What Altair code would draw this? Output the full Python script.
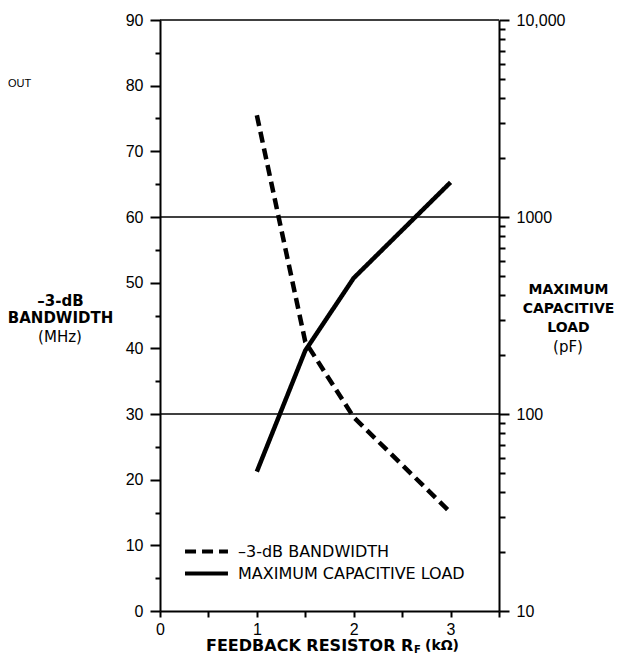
import altair as alt
import pandas as pd

# ---- data ----
rf_kohm = [1.0, 1.5, 2.0, 3.0]
bandwidth_mhz = [75.5, 41.0, 29.5, 15.0]
max_cap_pf = [51, 210, 490, 1500]
series_names = ["–3-dB BANDWIDTH", "MAXIMUM CAPACITIVE LOAD"]
grid_mhz = [30, 60, 90]
x_tick_values = [0, 0.5, 1, 1.5, 2, 2.5, 3, 3.5]
left_tick_values = list(range(0, 95, 5))
right_tick_values = [m * d for d in (10, 100, 1000) for m in range(1, 10)] + [10000]

W, H = 339, 591

bw_df = pd.DataFrame({"rf": rf_kohm, "value": bandwidth_mhz, "series": series_names[0]})
cap_df = pd.DataFrame({"rf": rf_kohm, "value": max_cap_pf, "series": series_names[1]})
grid_df = pd.DataFrame({"mhz": grid_mhz})

x_scale = alt.Scale(domain=[0, 3.5], nice=False, zero=False)
left_scale = alt.Scale(domain=[0, 90], nice=False, zero=False)
right_scale = alt.Scale(type="log", domain=[10, 10000], nice=False)
dash_scale = alt.Scale(domain=series_names, range=[[11, 6], [1, 0]])

x_axis = alt.Axis(
    values=x_tick_values,
    labelExpr="datum.value % 1 === 0 && datum.value < 3.5 ? format(datum.value, 'd') : ''",
    tickSize=6, labelPadding=4, title=None, grid=False,
)

left_major = "datum.value % 10 === 0"
left_axis = alt.Axis(
    orient="left", values=left_tick_values,
    labelExpr=f"{left_major} ? datum.label : ''",
    tickSize={"condition": {"test": left_major, "value": 10}, "value": 5},
    labelPadding=7, grid=False,
    title=["–3-dB", "BANDWIDTH"], titleAngle=0, titleAlign="center",
    titleBaseline="middle", titleX=-100, titleY=280, titleLineHeight=17,
)

right_major = "datum.value === 10 || datum.value === 100 || datum.value === 1000 || datum.value === 10000"
right_axis = alt.Axis(
    orient="right", values=right_tick_values,
    labelExpr=f"datum.value === 10000 ? '10,000' : (({right_major}) ? format(datum.value, 'd') : '')",
    tickSize={"condition": {"test": right_major, "value": 10}, "value": 6},
    labelPadding=7, grid=False,
    title=["MAXIMUM", "CAPACITIVE", "LOAD"], titleAngle=0, titleAlign="center",
    titleBaseline="middle", titleX=69, titleY=269, titleLineHeight=19, titleFontSize=14,
)

# wide stroke sample drawn with a small symbol size so the rows stay close together
legend = alt.Legend(
    title=None, orient="none", legendX=35, legendY=520, direction="vertical",
    symbolType="M-2.26,0H2.26", symbolSize=361, symbolStrokeWidth=4,
    symbolStrokeColor="black", symbolFillColor="transparent",
    labelFont="DejaVu Sans", labelFontSize=16, labelColor="black", labelOffset=20,
    padding=0, labelLimit=400,
)

grid = alt.Chart(grid_df).mark_rule(strokeWidth=1.5, color="black").encode(
    y=alt.Y("mhz:Q", scale=left_scale, axis=None)
)

bw_line = alt.Chart(bw_df).mark_line(strokeWidth=4.5, color="black", strokeCap="butt").encode(
    x=alt.X("rf:Q", scale=x_scale, axis=x_axis),
    y=alt.Y("value:Q", scale=left_scale, axis=left_axis),
    strokeDash=alt.StrokeDash("series:N", scale=dash_scale, legend=legend),
)

cap_line = alt.Chart(cap_df).mark_line(strokeWidth=4.5, color="black", strokeCap="butt").encode(
    x=alt.X("rf:Q", scale=x_scale, axis=x_axis),
    y=alt.Y("value:Q", scale=right_scale, axis=right_axis),
    strokeDash=alt.StrokeDash("series:N", scale=dash_scale, legend=legend),
)


def label(text, x, y, size, weight="normal", align="left", font="DejaVu Sans"):
    return alt.Chart(pd.DataFrame({"t": [text]})).mark_text(
        align=align, baseline="middle", fontSize=size, fontWeight=weight,
        font=font, color="black",
    ).encode(x=alt.value(x), y=alt.value(y), text="t:N")


texts = [
    label("(MHz)", -100, 317, 15, align="center"),
    label("(pF)", 408, 327, 15, align="center"),
    label("FEEDBACK RESISTOR R", 46, 626, 16, weight="bold"),
    label("F", 254, 630, 10, weight="bold"),
    label("(kΩ)", 265, 626, 14, weight="bold"),
    label("OUT", -152, 64, 11, font="Liberation Sans"),
]

chart = alt.layer(grid, bw_line, cap_line, *texts).resolve_scale(
    y="independent"
).properties(
    width=W, height=H,
    autosize=alt.AutoSizeParams(type="none"),
    padding={"left": 152, "top": 12, "right": 118, "bottom": 43},
).configure_view(stroke=None).configure_axis(
    domainColor="black", domainWidth=2, tickColor="black", tickWidth=2,
    labelFont="Liberation Sans", labelFontSize=16, labelColor="black",
    labelFlush=False, labelOverlap=False, labelBound=False,
    titleFont="DejaVu Sans", titleFontSize=15, titleFontWeight="bold", titleColor="black",
)

chart.save("out.html", embed_options={"renderer": "svg", "actions": False})
